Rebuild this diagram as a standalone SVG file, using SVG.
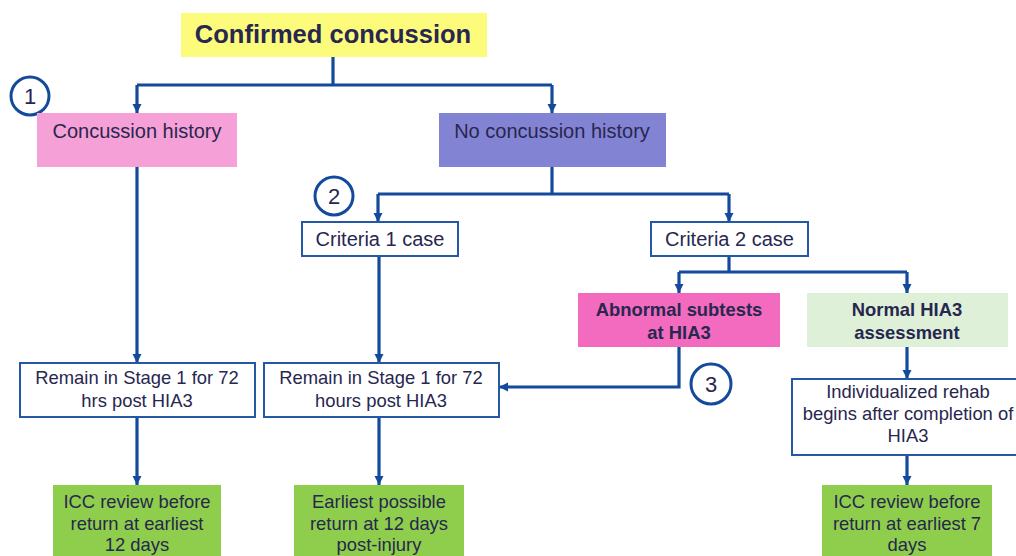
<svg xmlns="http://www.w3.org/2000/svg" width="1016" height="556" viewBox="0 0 1016 556">
<defs>
<style>
text{font-family:"Liberation Sans",Arial,sans-serif;fill:#27274f;text-anchor:middle}
.t20{font-size:20px}
.t18{font-size:18.4px}
.b18{font-size:18.4px;font-weight:bold}
.wbox{fill:#ffffff;stroke:#2457a6;stroke-width:2}
.conn{fill:none;stroke:#134a9c;stroke-width:3.2}
.num{fill:#ffffff;stroke:#134a9c;stroke-width:3}
.green{fill:#8fce4c}
</style>
<marker id="ah" markerUnits="userSpaceOnUse" markerWidth="10" markerHeight="10" refX="9" refY="5" orient="auto">
<path d="M0,0.5 L9,5 L0,9.5 z" fill="#134a9c"/>
</marker>
</defs>
<rect width="1016" height="556" fill="#ffffff"/>

<g id="connectors">
<path class="conn" d="M333,57 V85"/>
<path class="conn" d="M137,85 H552" />
<path class="conn" d="M137,85 V113" marker-end="url(#ah)"/>
<path class="conn" d="M552,85 V113" marker-end="url(#ah)"/>
<path class="conn" d="M137,167 V363" marker-end="url(#ah)"/>
<path class="conn" d="M552,167 V194"/>
<path class="conn" d="M378,194 H729"/>
<path class="conn" d="M378,194 V222" marker-end="url(#ah)"/>
<path class="conn" d="M729,194 V222" marker-end="url(#ah)"/>
<path class="conn" d="M379,256 V363" marker-end="url(#ah)"/>
<path class="conn" d="M729,256 V272"/>
<path class="conn" d="M679,272 H907"/>
<path class="conn" d="M679,272 V293" marker-end="url(#ah)"/>
<path class="conn" d="M907,272 V293" marker-end="url(#ah)"/>
<path class="conn" d="M679,347 V387 H499" marker-end="url(#ah)"/>
<path class="conn" d="M907,347 V379" marker-end="url(#ah)"/>
<path class="conn" d="M137,417 V485" marker-end="url(#ah)"/>
<path class="conn" d="M379,417 V485" marker-end="url(#ah)"/>
<path class="conn" d="M907,455 V485" marker-end="url(#ah)"/>
</g>

<g id="confirmed">
<rect x="181" y="13" width="306" height="44" fill="#fdfb7c"/>
<text x="333" y="43" style="font-size:25.5px;font-weight:bold">Confirmed concussion</text>
</g>

<g id="marker1">
<circle cx="30" cy="96" r="19" class="num"/>
<text x="30" y="104" style="font-size:22px">1</text>
</g>

<g id="concussion-history">
<rect x="37" y="113" width="200" height="54" fill="#f5a0d6"/>
<text x="137" y="138" class="t20">Concussion history</text>
</g>

<g id="no-concussion-history">
<rect x="439" y="113" width="227" height="54" fill="#8383d3"/>
<text x="552" y="138" class="t20">No concussion history</text>
</g>

<g id="marker2">
<circle cx="334" cy="196" r="19" class="num"/>
<text x="334" y="204" style="font-size:22px">2</text>
</g>

<g id="criteria1">
<rect x="302" y="222" width="156" height="34" class="wbox"/>
<text x="380" y="246" class="t20">Criteria 1 case</text>
</g>

<g id="criteria2">
<rect x="651" y="222" width="157" height="34" class="wbox"/>
<text x="729.5" y="246" class="t20">Criteria 2 case</text>
</g>

<g id="abnormal">
<rect x="578" y="293" width="202" height="54" fill="#f36bbf"/>
<text x="679" y="316" class="b18">Abnormal subtests</text>
<text x="679" y="339" class="b18">at HIA3</text>
</g>

<g id="normal">
<rect x="807" y="293" width="201" height="54" fill="#dff0d9"/>
<text x="907" y="316" class="b18">Normal HIA3</text>
<text x="907" y="339" class="b18">assessment</text>
</g>

<g id="marker3">
<circle cx="711" cy="384" r="20" class="num"/>
<text x="711" y="392" style="font-size:22px">3</text>
</g>

<g id="remain1">
<rect x="20" y="363" width="235" height="54" class="wbox"/>
<text x="137" y="384" class="t18">Remain in Stage 1 for 72</text>
<text x="137" y="407" class="t18">hrs post HIA3</text>
</g>

<g id="remain2">
<rect x="264" y="363" width="235" height="54" class="wbox"/>
<text x="381" y="384" class="t18">Remain in Stage 1 for 72</text>
<text x="381" y="407" class="t18">hours post HIA3</text>
</g>

<g id="rehab">
<rect x="792" y="379" width="230" height="76" class="wbox"/>
<text x="908" y="398" class="t18">Individualized rehab</text>
<text x="908" y="420" class="t18">begins after completion of</text>
<text x="908" y="442" class="t18">HIA3</text>
</g>

<g id="icc12">
<rect x="53" y="485" width="168" height="80" class="green"/>
<text x="137" y="508" class="t18">ICC review before</text>
<text x="137" y="530" class="t18">return at earliest</text>
<text x="137" y="551" class="t18">12 days</text>
</g>

<g id="earliest12">
<rect x="294" y="485" width="170" height="80" class="green"/>
<text x="379" y="508" class="t18">Earliest possible</text>
<text x="379" y="530" class="t18">return at 12 days</text>
<text x="379" y="551" class="t18">post-injury</text>
</g>

<g id="icc7">
<rect x="822" y="485" width="170" height="80" class="green"/>
<text x="907" y="508" class="t18">ICC review before</text>
<text x="907" y="530" class="t18">return at earliest 7</text>
<text x="907" y="551" class="t18">days</text>
</g>
</svg>
